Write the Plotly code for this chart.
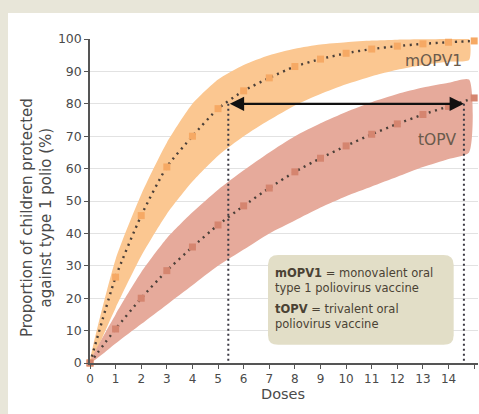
import plotly.graph_objects as go

# ---------------- data ----------------
doses = [0, 1, 2, 3, 4, 5, 6, 7, 8, 9, 10, 11, 12, 13, 14, 15]
mopv1 = [0, 26.5, 45.5, 60.5, 70, 78.5, 84, 88, 91.5, 93.8, 95.6, 96.9, 97.8, 98.5, 99.0, 99.4]
topv = [0, 10.5, 20, 28.5, 35.8, 42.6, 48.5, 54, 59, 63.2, 67, 70.6, 73.8, 76.7, 79.2, 81.8]

band_doses = [0, 1, 2, 3, 4, 5, 6, 7, 8, 9, 10, 11, 12, 13, 14, 14.8]
mopv1_upper = [0, 32, 52, 68, 80, 87.5, 92, 95, 97, 98.3, 99, 99.5, 99.8, 99.9, 100, 100]
mopv1_lower = [0, 17, 33, 46, 56, 64, 70, 75, 79.5, 83, 86, 88.5, 90.5, 92, 93, 93.5]
topv_upper = [0, 15, 28, 38.5, 46.5, 53.5, 59.5, 65, 70, 74, 77.5, 80.5, 83, 85, 86.5, 87.5]
topv_lower = [0, 6, 12, 18, 24, 30, 35, 40, 44, 48, 51.5, 54.5, 57.5, 60.5, 63, 65]

threshold_pct = 80
doses_to_threshold = [5.4, 14.6]   # mOPV1, tOPV

y_ticks = [0, 10, 20, 30, 40, 50, 60, 70, 80, 90, 100]
x_ticks = list(range(0, 16))

key_blocks = [
    ("<b>mOPV1</b> = monovalent oral<br>type 1 poliovirus vaccine", 25.5),
    ("<b>tOPV</b> = trivalent oral<br>poliovirus vaccine", 14.2),
]

# ---------------- style ----------------
FONT = "DejaVu Sans, Verdana, sans-serif"
C_M_BAND = "#fbc791"
C_T_BAND = "#e6aa9b"
C_M_MARK = "#f6a964"
C_T_MARK = "#d5856f"
C_DOT = "#4a3f38"

fig = go.Figure()

def band(xs, up, lo, color):
    fig.add_trace(go.Scatter(
        x=xs + xs[::-1], y=up + lo[::-1], fill="toself", fillcolor=color,
        line=dict(width=0, color=color, shape="spline", smoothing=0.6),
        mode="lines", hoverinfo="skip", showlegend=False))

band(band_doses, mopv1_upper, mopv1_lower, C_M_BAND)
band(band_doses, topv_upper, topv_lower, C_T_BAND)

for ys in (mopv1, topv):
    fig.add_trace(go.Scatter(
        x=doses, y=ys, mode="lines",
        line=dict(color=C_DOT, width=2.4, dash="2px,4.5px", shape="spline", smoothing=0.6),
        showlegend=False, hoverinfo="skip"))

for ys, c in ((mopv1, C_M_MARK), (topv, C_T_MARK)):
    fig.add_trace(go.Scatter(
        x=doses, y=ys, mode="markers", cliponaxis=False,
        marker=dict(symbol="square", size=7, color=c, line=dict(width=0)),
        showlegend=False))

# vertical dotted drop lines
for d in doses_to_threshold:
    fig.add_trace(go.Scatter(
        x=[d, d], y=[threshold_pct, 0], mode="lines",
        line=dict(color="#3c3a44", width=2, dash="2px,3px"),
        showlegend=False, hoverinfo="skip"))

# double-headed arrow
fig.add_annotation(
    x=doses_to_threshold[1], y=threshold_pct, ax=doses_to_threshold[0], ay=threshold_pct,
    xref="x", yref="y", axref="x", ayref="y", text="", showarrow=True,
    arrowhead=2, startarrowhead=2, arrowside="end+start", arrowsize=1.3, startarrowsize=1.3,
    arrowwidth=2.2, arrowcolor="#111111")

# series labels
fig.add_annotation(x=13.4, y=93.2, text="mOPV1", showarrow=False,
                   font=dict(family=FONT, size=15.5, color="#6a5a4c"))
fig.add_annotation(x=13.57, y=68.7, text="tOPV", showarrow=False,
                   font=dict(family=FONT, size=15.5, color="#6a5a4c"))

# key box (rounded)
x0, x1, y0, y1 = 6.95, 14.2, 5.6, 33.3
rx, ry = 0.4, 3.0
path = (f"M {x0+rx},{y0} L {x1-rx},{y0} Q {x1},{y0} {x1},{y0+ry} "
        f"L {x1},{y1-ry} Q {x1},{y1} {x1-rx},{y1} L {x0+rx},{y1} "
        f"Q {x0},{y1} {x0},{y1-ry} L {x0},{y0+ry} Q {x0},{y0} {x0+rx},{y0} Z")
fig.add_shape(type="path", path=path, xref="x", yref="y",
              fillcolor="#e2dec7", line=dict(width=0), layer="above")

key_font = dict(family=FONT, size=11.5, color="#4a4234")
for txt, yv in key_blocks:
    fig.add_annotation(x=7.2, y=yv, xanchor="left", yanchor="middle", align="left",
                       text=txt, showarrow=False, font=key_font, borderpad=0)

# axis titles
fig.add_annotation(x=-0.137, y=0.45, xref="paper", yref="paper", textangle=-90,
                   xanchor="center", yanchor="middle",
                   text="Proportion of children protected<br>against type 1 polio (%)",
                   showarrow=False, font=dict(family=FONT, size=15, color="#4a4a4a"))
fig.add_annotation(x=0.497, y=-0.095, xref="paper", yref="paper",
                   xanchor="center", yanchor="middle",
                   text="Doses", showarrow=False,
                   font=dict(family=FONT, size=14.5, color="#4a4a4a"))

# white panel over beige page
fig.add_shape(type="rect", xref="paper", yref="paper",
              x0=-0.2113, x1=1.2, y0=-0.3, y1=1.0802,
              fillcolor="white", line=dict(width=0), layer="below")

fig.update_layout(
    width=479, height=414,
    margin=dict(l=90, r=1, t=39, b=51),
    paper_bgcolor="#e8e6d9", plot_bgcolor="white",
    font=dict(family=FONT, size=12, color="#4a4a4a"),
    xaxis=dict(range=[0, 15.15], tickvals=x_ticks, showgrid=False, zeroline=False,
               showline=True, linecolor="#555555", linewidth=1.5,
               ticks="outside", ticklen=4, tickcolor="#555555", tickwidth=1.2,
               tickfont=dict(family=FONT, size=12, color="#4a4a4a")),
    yaxis=dict(range=[0, 100], tickvals=y_ticks, showgrid=True, gridcolor="#e2e2e2",
               gridwidth=1, zeroline=False,
               showline=True, linecolor="#555555", linewidth=1.5,
               ticks="outside", ticklen=4, tickcolor="#555555", tickwidth=1.2,
               tickfont=dict(family=FONT, size=12.5, color="#4a4a4a")),
)

fig.write_html("out.html")
